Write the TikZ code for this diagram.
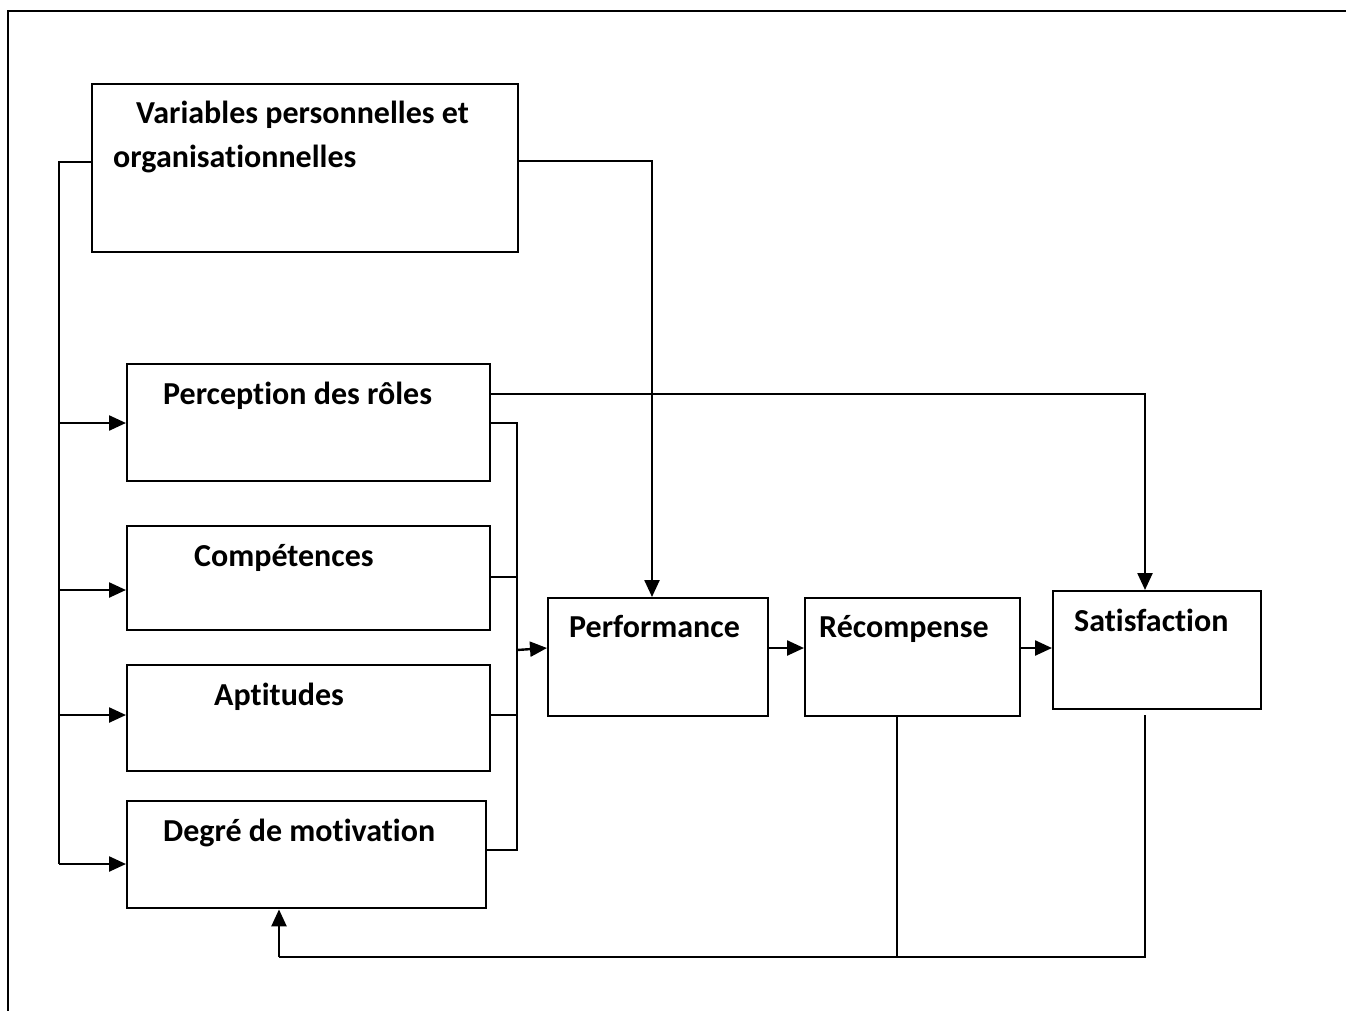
\documentclass[tikz,border=0pt]{standalone}
\usepackage{fontspec}
\setmainfont{Carlito}[Ligatures=NoCommon]
\usetikzlibrary{arrows.meta}

\begin{document}
\begin{tikzpicture}[x=1pt,y=-1pt,
  line width=2.4pt,
  box/.style={draw, rectangle, anchor=north west, inner sep=0pt},
  lbl/.style={anchor=base west, inner sep=0pt, font=\fontsize{32}{44}\selectfont\bfseries},
  arr/.style={-{Triangle[length=17pt,width=15pt]}},
]
\useasboundingbox (0,0) rectangle (1346,1010);

% page frame (top and left edges)
\draw (8,1012) -- (8,11) -- (1348,11);

% boxes
\node[box, minimum width=426pt, minimum height=168pt] (var)  at (91,83)   {};
\node[box, minimum width=363pt, minimum height=117pt] (perc) at (126,363) {};
\node[box, minimum width=363pt, minimum height=104pt] (comp) at (126,525) {};
\node[box, minimum width=363pt, minimum height=106pt] (apt)  at (126,664) {};
\node[box, minimum width=359pt, minimum height=107pt] (deg)  at (126,800) {};
\node[box, minimum width=220pt, minimum height=118pt] (perf) at (547,597) {};
\node[box, minimum width=215pt, minimum height=118pt] (rec)  at (804,597) {};
\node[box, minimum width=208pt, minimum height=118pt] (sat)  at (1052,590) {};

% labels
\node[lbl] (varA)  at (135,123) {Variables personnelles et};
\node[lbl] (varB)  at (112,167) {organisationnelles};
\node[lbl] (percT) at (162,404) {Perception des rôles};
\node[lbl] (compT) at (193,566) {Compétences};
\node[lbl] (aptT)  at (213,705) {Aptitudes};
\node[lbl] (degT)  at (162,841) {Degré de motivation};
\node[lbl] (perfT) at (568,637) {Performance};
\node[lbl] (recT)  at (818,637) {Récompense};
\node[lbl] (satT)  at (1073,631) {Satisfaction};

% junction points
\coordinate (trunkTop) at (59,162);
\coordinate (trunkBot) at (59,864);
\coordinate (busTop)   at (517,423);
\coordinate (busBot)   at (517,850);
\coordinate (busOut)   at (517,650);
\coordinate (loopL)    at (279,957);
\coordinate (loopR)    at (1145,957);
\coordinate (loopM)    at (897,957);

% left trunk feeding the four factor boxes
\draw (var.west |- trunkTop) -- (trunkTop) -- (trunkBot);
\draw[arr] (trunkTop |- 0,423) -- (perc.west |- 0,423);
\draw[arr] (trunkTop |- 0,590) -- (comp.west |- 0,590);
\draw[arr] (trunkTop |- 0,715) -- (apt.west |- 0,715);
\draw[arr] (trunkBot) -- (deg.west |- trunkBot);

% personal variables to performance
\draw[arr] (var.east |- 0,161) -| (perf.north -| 652,0);

% role perception to satisfaction
\draw[arr] (perc.east |- 0,394) -| (sat.north -| 1145,0);

% right bus collecting the factors
\draw (perc.east |- busTop) -- (busTop) -- (busBot) -- (deg.east |- busBot);
\draw (comp.east |- 0,577) -- (busTop |- 0,577);
\draw (apt.east |- 0,715) -- (busTop |- 0,715);
\draw[arr] (busOut) -- (perf.west |- 0,648);

% main chain
\draw[arr] (perf.east |- 0,648) -- (rec.west |- 0,648);
\draw[arr] (rec.east |- 0,648) -- (sat.west |- 0,648);

% feedback loop to motivation
\draw (rec.south -| loopM) -- (loopM);
\draw (loopR |- 0,715) -- (loopR) -- (loopL);
\draw[arr] (loopL) -- (deg.south -| loopL);
\end{tikzpicture}
\end{document}
